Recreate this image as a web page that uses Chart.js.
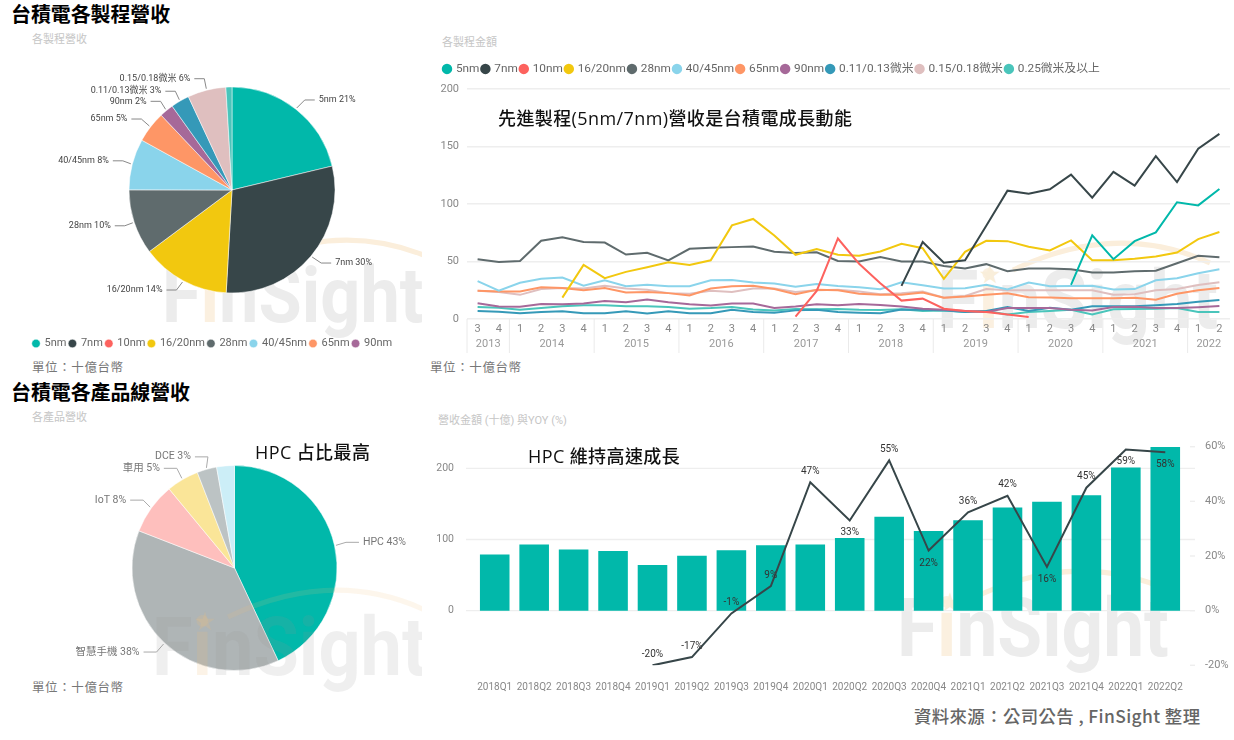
<!DOCTYPE html>
<html lang="zh-Hant">
<head>
<meta charset="utf-8">
<title>台積電各製程與產品線營收</title>
<script src="https://cdn.jsdelivr.net/npm/chart.js@4"></script>
<style>
html,body{margin:0;padding:0;background:#fff;}
body{width:1234px;height:740px;position:relative;overflow:hidden;font-family:Roboto,"Noto Sans CJK TC",sans-serif;}
canvas{position:absolute;}
.t{position:absolute;white-space:nowrap;line-height:24px;}
.title{font:700 19.9px/24px "Noto Sans CJK TC",sans-serif;color:#000;left:11px;}
.sub{font-size:11px;color:#c6c6c6;}
.unit{font-size:12.5px;color:#777;letter-spacing:.6px;}
.note{font:500 18px/24px "Open Sans","Noto Sans CJK TC",sans-serif;color:#111;letter-spacing:.4px;}
.wm{position:absolute;overflow:hidden;pointer-events:none;}
.wm div{position:absolute;font:700 82px/82px Roboto,sans-serif;color:#ececec;transform-origin:0 0;white-space:nowrap;}
.wm .i{color:#fbf0e0;}
.wm svg{position:absolute;overflow:visible;}
.wm .star{font-size:20px;line-height:20px;color:#f9eeda;}
</style>
</head>
<body>
<div class="wm" id="wm1" style="left:0;top:220px;width:422px;height:140px;z-index:0"></div>
<div class="wm" id="wm2" style="left:900px;top:220px;width:334px;height:160px;z-index:0"></div>
<div class="wm" id="wm3" style="left:0;top:570px;width:422px;height:140px;z-index:5"></div>
<div class="wm" id="wm4" style="left:860px;top:560px;width:374px;height:140px;z-index:0"></div>

<canvas id="pieProcess" width="424" height="314" style="left:20px;top:45px;width:424px;height:314px;z-index:1"></canvas>
<canvas id="lineProcess" width="804" height="300" style="left:430px;top:60px;width:804px;height:300px;z-index:1"></canvas>
<canvas id="pieProduct" width="429" height="276" style="left:20px;top:430px;width:429px;height:276px;z-index:1"></canvas>
<canvas id="barHpc" width="804" height="270" style="left:430px;top:430px;width:804px;height:270px;z-index:1"></canvas>

<div class="t title" style="top:2px">台積電各製程營收</div>
<div class="t sub" style="left:32px;top:28px">各製程營收</div>
<div class="t sub" style="left:442px;top:31px">各製程金額</div>
<div class="t note" style="left:498px;top:106px;z-index:3">先進製程(5nm/7nm)營收是台積電成長動能</div>
<div class="t unit" style="left:32px;top:356px">單位：十億台幣</div>
<div class="t unit" style="left:430px;top:356px">單位：十億台幣</div>
<div class="t title" style="top:380px">台積電各產品線營收</div>
<div class="t sub" style="left:32px;top:406px">各產品營收</div>
<div class="t sub" style="left:438px;top:409px">營收金額 (十億) 與YOY (%)</div>
<div class="t note" style="left:255px;top:440px;z-index:3">HPC 占比最高</div>
<div class="t note" style="left:528px;top:444px;z-index:3">HPC 維持高速成長</div>
<div class="t unit" style="left:32px;top:676px">單位：十億台幣</div>
<div class="t" style="left:914px;top:704px;font:500 17.4px/24px 'Noto Sans CJK TC',sans-serif;color:#666;letter-spacing:.4px;z-index:3">資料來源：公司公告 , FinSight 整理</div>

<script>
// ---------- process pie ----------
const processNames = ['5nm','7nm','10nm','16/20nm','28nm','40/45nm','65nm','90nm','0.11/0.13微米','0.15/0.18微米','0.25微米及以上'];
const processShare = [21.25,29.6,0,13.9,10.2,8,4.9,2.2,2.9,6,0.95];
const processColors = ['#01B8AA','#374649','#FD625E','#F2C80F','#5F6B6D','#8AD4EB','#FE9666','#A66999','#3599B8','#DFBFBF','#4AC5BB'];

// ---------- process revenue by quarter ----------
const quarterLabels = ['3','4','1','2','3','4','1','2','3','4','1','2','3','4','1','2','3','4','1','2','3','4','1','2','3','4','1','2','3','4','1','2','3','4','1','2'];
const yearNames = ['2013','2014','2015','2016','2017','2018','2019','2020','2021','2022'];
const yearQuarterCounts = [2,4,4,4,4,4,4,4,4,2];
const n5 = [null,null,null,null,null,null,null,null,null,null,null,null,null,null,null,null,null,null,null,null,null,null,null,null,null,null,null,null,29.6,72.7,52,67.7,75.3,101.5,98.8,113];
const n7 = [null,null,null,null,null,null,null,null,null,null,null,null,null,null,null,null,null,null,null,null,28.8,67,49,51,81,111.6,109,112.8,125.6,105.5,127.9,116,141.6,119,148,161];
const n10 = [null,null,null,null,null,null,null,null,null,null,null,null,null,null,null,2,24.4,70,48,31,16,17.7,9,7,6,4,1.7,null,null,null,null,null,null,null,null,null];
const n16 = [null,null,null,null,18.6,47,35.5,41,45,49.4,47,51,81.4,87,72.7,55.8,60.8,55.8,55,58.7,65.4,61.6,35,58.4,68,67.7,62.8,59.6,68.3,51,51,52.3,54.4,57.8,69.5,75.6];
const n28 = [52,49.5,50.5,68,71,67,66.5,56,57.5,51,61,62,62.5,63,58.5,57.5,58,50.5,50,54,50,50,46,44,47.7,41.5,44,44,43.3,40.4,40.4,41.5,41.9,48.5,55,53.8];
const n40 = [33,24.7,31.5,35,36,29,33.7,28.5,29.7,28.5,28.5,33.7,34,31.7,30.8,28,30.5,28.8,27.6,25.9,32,29.4,26.5,26.7,29.7,25.6,31.7,28.5,28.8,29,25.6,26,33.7,35.5,39.8,43.3];
const n65 = [24.5,24,24,27.5,27,25,27,23,23.5,22.5,20.5,26.5,28.5,29,26,21.5,25.5,25,22,21,21,23,18.5,19.5,21,22.4,19,18.6,18,18,18,18.5,16.8,22,25,27];
const n90 = [13.6,10.8,10.7,13,12.8,13.5,15.7,14.6,17,14.6,12.8,11.8,13.5,13.5,9.6,10.8,12.8,12,13,12.2,10.9,9,8,7,6,9.5,9.6,9.6,8,7.5,10.5,10.7,9.5,9.5,10.3,11.2];
const u13 = [7,6.3,5,6,6.8,5,5,6.8,4.8,6.7,5,5,8,6,5.5,7.5,8,6,5.5,5,8.2,8,7.5,6,7,10.5,7,9.7,8,11,11,11,12,13,15,16.5];
const u18 = [24.5,23.5,21,26,27,26.5,29,26.5,25.5,22.5,22,24.5,23.5,26.5,26.5,23.5,25,25.5,24,21.5,22.5,24,18.5,20,26,25,25,25,25,25,21,21.5,25,26,29.5,32];
const u25 = [10.5,9.7,8,9.5,11,12,12,11,11,10.5,9,9.5,10.5,8.2,7.5,8.8,8.5,8.8,8,7.8,8.5,7,7.3,6,7,4,6,7,8,4,8.5,8.7,9,9.5,6,6];
const processSeries = [n5,n7,n10,n16,n28,n40,n65,n90,u13,u18,u25];
const lineYTicks = [0,50,100,150,200];

// ---------- product pie ----------
const productNames = ['HPC','智慧手機','IoT','車用','DCE','其他'];
const productShare = [43,37.9,8.1,5.1,3.1,2.8];
const productColors = ['#01B8AA','#AFB5B6','#FEBFBD','#FAE598','#BCC3C4','#CCEEF7'];

// ---------- HPC revenue and YoY ----------
const hpcQuarters = ['2018Q1','2018Q2','2018Q3','2018Q4','2019Q1','2019Q2','2019Q3','2019Q4','2020Q1','2020Q2','2020Q3','2020Q4','2021Q1','2021Q2','2021Q3','2021Q4','2022Q1','2022Q2'];
const hpcRevenue = [79,93,86,84,64,77,85,92,93,102,132,112,127,145,153,162,201,230];
const hpcYoy = [null,null,null,null,-20,-17,-1,9,47,33,55,22,36,42,16,45,59,58];
const hpcYoyLabelSide = [0,0,0,0,'above','above','above','above','above','below','above','below','above','above','below','above','below','below'];
const revenueTicks = [0,100,200];
const yoyTicks = [-20,0,20,40,60];

// ---------- styling / helpers ----------
const FONT = 'Roboto, "Noto Sans CJK TC", sans-serif';
Chart.defaults.font.family = FONT;
Chart.defaults.animation = false;
Chart.defaults.responsive = false;
Chart.defaults.devicePixelRatio = 1;

// leader-line offsets of each pie label, relative to the edge of its slice
const processLeaders = [[8,-8],[9,6],null,[-6,8],[-8,3],[-8,-3],[-8,-7],[-5,-8],[-4,-8.5],[-2,-10],null];
const productLeaders = [[10,-3],[-7,8],[-7,-7],[-5,-10],[1.5,-11],null];

function pieLabels(leaders, font, textColor, lineColor, arm){
  return {
    id:'pieLabels',
    afterDatasetsDraw(chart){
      const ctx = chart.ctx, meta = chart.getDatasetMeta(0);
      const data = chart.data.datasets[0].data;
      const total = data.reduce((a,b)=>a+b,0);
      ctx.save();
      ctx.font = font; ctx.textBaseline = 'middle';
      meta.data.forEach((arc,i)=>{
        if(!leaders[i]) return;
        const mid = (arc.startAngle+arc.endAngle)/2;
        const sx = arc.x+Math.cos(mid)*(arc.outerRadius+1.5);
        const sy = arc.y+Math.sin(mid)*(arc.outerRadius+1.5);
        const ex = sx+leaders[i][0], ey = sy+leaders[i][1];
        const dir = Math.cos(mid)>0 ? 1 : -1;
        ctx.strokeStyle = lineColor; ctx.lineWidth = 1;
        ctx.beginPath(); ctx.moveTo(sx,sy); ctx.lineTo(ex,ey); ctx.lineTo(ex+dir*arm,ey); ctx.stroke();
        ctx.fillStyle = textColor;
        ctx.textAlign = dir>0 ? 'left' : 'right';
        ctx.fillText(chart.data.labels[i]+' '+Math.round(data[i]/total*100)+'%', ex+dir*(arm+4), ey);
      });
      ctx.restore();
    }
  };
}
const yearBands = {
  id:'yearBands',
  afterDraw(chart){
    const ctx = chart.ctx, x = chart.scales.x, top = chart.chartArea.bottom;
    ctx.save();
    ctx.font = '11px '+FONT; ctx.textAlign = 'center'; ctx.textBaseline = 'middle';
    let start = 0;
    const step = x.getPixelForValue(1)-x.getPixelForValue(0);
    yearQuarterCounts.forEach((c,i)=>{
      const a = x.getPixelForValue(start)-step/2, b = x.getPixelForValue(start+c-1)+step/2;
      ctx.strokeStyle = '#eaeaea'; ctx.lineWidth = 1;
      ctx.beginPath(); ctx.moveTo(a,top); ctx.lineTo(a,top+34); ctx.stroke();
      ctx.fillStyle = '#999';
      ctx.fillText(yearNames[i],(a+b)/2,top+25);
      start += c;
    });
    ctx.restore();
  }
};
const wideGrid = {
  id:'wideGrid',
  beforeDatasetsDraw(chart){
    const ctx = chart.ctx, y = chart.scales.y, y1 = chart.scales.y1, area = chart.chartArea;
    ctx.save(); ctx.strokeStyle = '#eeeeee'; ctx.lineWidth = 1.4;
    revenueTicks.forEach(v=>{
      const p = y.getPixelForValue(v);
      ctx.beginPath(); ctx.moveTo(area.left-9,p); ctx.lineTo(area.right+10,p); ctx.stroke();
    });
    yoyTicks.forEach(v=>{
      const p = y1.getPixelForValue(v);
      ctx.beginPath(); ctx.moveTo(area.right+5,p); ctx.lineTo(area.right+10,p); ctx.stroke();
    });
    ctx.restore();
  }
};
const yoyLabels = {
  id:'yoyLabels',
  afterDatasetsDraw(chart){
    const ctx = chart.ctx, idx = chart.data.datasets.findIndex(d=>d.type==='line');
    const meta = chart.getDatasetMeta(idx);
    ctx.save();
    ctx.font = '10px '+FONT; ctx.fillStyle = '#333'; ctx.textAlign = 'center'; ctx.textBaseline = 'middle';
    meta.data.forEach((pt,i)=>{
      if(hpcYoy[i]===null) return;
      const off = hpcYoyLabelSide[i]==='above' ? -11 : 12.5;
      ctx.fillText(hpcYoy[i]+'%',pt.x,pt.y+off);
    });
    ctx.restore();
  }
};
const legendHeight = h => ({
  id:'legendHeight',
  beforeInit(chart){
    const fit = chart.legend.fit;
    chart.legend.fit = function(){ fit.call(this); this.height = h; };
  }
});
const fixY = w => s => { s.width = w; s.paddingTop = 0; s.paddingBottom = 0; };

// ---------- charts ----------
new Chart(document.getElementById('pieProcess'),{
  type:'pie',
  data:{labels:processNames,datasets:[{data:processShare,backgroundColor:processColors,borderWidth:0.5,borderColor:'#fff'}]},
  options:{
    radius:103,
    layout:{padding:{left:10,right:10}},
    plugins:{
      tooltip:{enabled:false},
      legend:{position:'bottom',align:'start',labels:{usePointStyle:true,pointStyle:'circle',boxWidth:6,boxHeight:6,padding:3,color:'#666',font:{size:11},
        filter:(item)=>item.index<8}}
    }
  },
  plugins:[pieLabels(processLeaders,'9px '+FONT,'#444','#888',10)]
});

new Chart(document.getElementById('lineProcess'),{
  type:'line',
  data:{labels:quarterLabels,datasets:processSeries.map((s,i)=>({label:processNames[i],data:s,borderColor:processColors[i],backgroundColor:processColors[i],borderWidth:2,pointRadius:0,tension:0,spanGaps:false}))},
  options:{
    layout:{padding:{left:11,right:4,bottom:0}},
    plugins:{
      tooltip:{enabled:false},
      legend:{position:'top',align:'start',labels:{usePointStyle:true,pointStyle:'circle',boxWidth:6,boxHeight:6,padding:3,color:'#666',font:{size:11.8}}}
    },
    scales:{
      x:{offset:true,grid:{display:false,drawTicks:false},border:{display:false},afterFit:s=>{s.height=41;},
        ticks:{autoSkip:false,maxRotation:0,padding:4,color:'#888',font:{size:11}}},
      y:{min:0,max:200,border:{display:false},grid:{color:'#eeeeee',lineWidth:1.4,drawTicks:false},afterFit:fixY(26),
        afterBuildTicks:s=>{s.ticks=lineYTicks.map(v=>({value:v}));},
        ticks:{padding:8,color:'#888',font:{size:11}}}
    }
  },
  plugins:[yearBands,legendHeight(29)]
});

new Chart(document.getElementById('pieProduct'),{
  type:'pie',
  data:{labels:productNames,datasets:[{data:productShare,backgroundColor:productColors,borderWidth:0.5,borderColor:'#fff'}]},
  options:{radius:102.5,plugins:{tooltip:{enabled:false},legend:{display:false}}},
  plugins:[pieLabels(productLeaders,'10.5px '+FONT,'#777','#aaa',13)]
});

new Chart(document.getElementById('barHpc'),{
  data:{labels:hpcQuarters,datasets:[
    {type:'line',label:'YOY',data:hpcYoy,yAxisID:'y1',borderColor:'#374649',borderWidth:2,pointRadius:0,tension:0,order:0},
    {type:'bar',label:'營收金額',data:hpcRevenue,yAxisID:'y',backgroundColor:'#01B8AA',barPercentage:0.75,categoryPercentage:1,order:1}
  ]},
  options:{
    layout:{padding:{left:0,top:16.7,right:0,bottom:0}},
    plugins:{tooltip:{enabled:false},legend:{display:false}},
    scales:{
      x:{grid:{display:false,drawTicks:false},border:{display:false},afterFit:s=>{s.height=34.7;},
        ticks:{autoSkip:false,maxRotation:0,padding:16,color:'#888',font:{size:10}}},
      y:{position:'left',min:-76.8,max:230.4,border:{display:false},grid:{display:false,drawTicks:false},afterFit:fixY(45),
        afterBuildTicks:s=>{s.ticks=revenueTicks.map(v=>({value:v}));},
        ticks:{padding:21,color:'#888',font:{size:10.5}}},
      y1:{position:'right',min:-20,max:60,border:{display:false},afterFit:fixY(49),
        afterBuildTicks:s=>{s.ticks=yoyTicks.map(v=>({value:v}));},
        grid:{display:false,drawTicks:false},
        ticks:{padding:20,color:'#888',font:{size:11},callback:v=>v+'%'}}
    }
  },
  plugins:[wideGrid,yoyLabels]
});

// ---------- FinSight watermarks (real text) ----------
function watermark(id,x,capTop,size,sx,arcColor){
  const host = document.getElementById(id), r = host.getBoundingClientRect();
  const left = x-r.left, top = capTop-r.top;
  const txt = document.createElement('div');
  txt.innerHTML = 'F<span class="i">i</span>nSight';
  txt.style.cssText = `left:${left}px;top:${top-0.13*size}px;font-size:${size}px;line-height:${size}px;transform:scaleX(${sx})`;
  host.appendChild(txt);
  const star = document.createElement('div');
  star.className = 'star'; star.textContent = '★';
  star.style.cssText = `left:${left+size*0.52}px;top:${top-6}px`;
  host.appendChild(star);
  const svg = document.createElementNS('http://www.w3.org/2000/svg','svg');
  svg.setAttribute('width','10'); svg.setAttribute('height','10');
  svg.style.cssText = `left:${left}px;top:${top}px`;
  svg.innerHTML = `<path d="M76 0 Q180 -50 273 -7" fill="none" stroke="${arcColor}" stroke-width="5"/>`;
  host.appendChild(svg);
}
watermark('wm1',162,267,78,0.9,'#fbeedb');
watermark('wm2',937,270,82,0.92,'#fbeedb');
watermark('wm3',152,617,82,0.9,'rgba(240,190,120,.14)');
watermark('wm4',897,598,82,0.89,'#fbeedb');
document.querySelectorAll('#wm3 div').forEach(d=>{ d.style.color = d.classList.contains('star') ? 'rgba(240,190,120,.2)' : 'rgba(150,150,150,.15)'; });
document.querySelector('#wm3 .i').style.color='rgba(240,190,120,.18)';
</script>
</body>
</html>
